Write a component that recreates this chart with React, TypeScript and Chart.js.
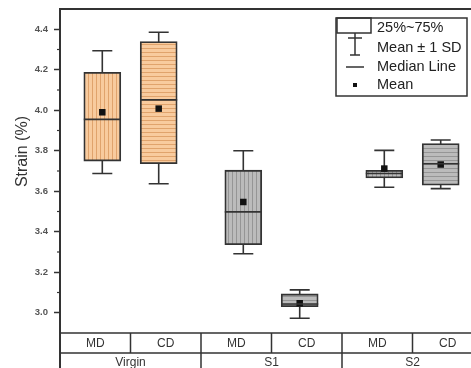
import React, { useEffect, useRef } from 'react';
import { Chart, registerables } from 'chart.js';
Chart.register(...registerables);

const FONT = "'Liberation Sans', Arial, sans-serif";

const groups = ['Virgin', 'S1', 'S2'];
const directions = ['MD', 'CD'];
// order: Virgin MD, Virgin CD, S1 MD, S1 CD, S2 MD, S2 CD
const q1 = [3.749, 3.736, 3.336, 3.030, 3.666, 3.630];
const q3 = [4.187, 4.339, 3.704, 3.093, 3.703, 3.836];
const medians = [3.955, 4.051, 3.498, 3.043, 3.688, 3.736];
const means = [3.990, 4.008, 3.547, 3.047, 3.712, 3.732];
const whiskerLow = [3.688, 3.637, 3.291, 2.973, 3.620, 3.613];
const whiskerHigh = [4.294, 4.385, 3.800, 3.113, 3.802, 3.853];
const yTicks = [3.0, 3.2, 3.4, 3.6, 3.8, 4.0, 4.2, 4.4];
const yMinorTicks = [3.1, 3.3, 3.5, 3.7, 3.9, 4.1, 4.3];
const legendLabels = ['25%~75%', 'Mean \u00b1 1 SD', 'Median Line', 'Mean'];
const axisTitle = 'Strain (%)';

const boxX = groups.flatMap((_, gi) => directions.map((__, di) => gi + 1 + (di === 0 ? -0.2 : 0.2)));
const BOX_W = 37;

function makePattern(bg: string, line: string, vertical: boolean) {
  const c = document.createElement('canvas');
  c.width = 4; c.height = 4;
  const x = c.getContext('2d')!;
  x.fillStyle = bg; x.fillRect(0, 0, 4, 4);
  x.fillStyle = line;
  if (vertical) x.fillRect(0, 0, 1, 4); else x.fillRect(0, 0, 4, 1);
  return x.createPattern(c, 'repeat')!;
}

const extras = {
  id: 'boxExtras',
  beforeDatasetsDraw(chart: any) {
    const { ctx, scales: { x, y } } = chart;
    ctx.save();
    ctx.strokeStyle = '#333';
    ctx.lineWidth = 1.6;
    boxX.forEach((bx, i) => {
      const px = x.getPixelForValue(bx);
      const lo = y.getPixelForValue(whiskerLow[i]);
      const hi = y.getPixelForValue(whiskerHigh[i]);
      ctx.beginPath();
      ctx.moveTo(px, lo); ctx.lineTo(px, hi);
      ctx.moveTo(px - 10, lo); ctx.lineTo(px + 10, lo);
      ctx.moveTo(px - 10, hi); ctx.lineTo(px + 10, hi);
      ctx.stroke();
    });
    ctx.restore();
  },
  afterDatasetsDraw(chart: any) {
    const { ctx, scales: { x, y } } = chart;
    ctx.save();
    ctx.strokeStyle = '#333';
    ctx.lineWidth = 1.6;
    boxX.forEach((bx, i) => {
      const px = x.getPixelForValue(bx);
      const py = y.getPixelForValue(medians[i]);
      ctx.beginPath();
      ctx.moveTo(px - BOX_W / 2, py); ctx.lineTo(px + BOX_W / 2, py);
      ctx.stroke();
    });
    ctx.restore();
  },
  afterDraw(chart: any) {
    const { ctx, chartArea: ca, scales: { x, y } } = chart;
    ctx.save();
    ctx.strokeStyle = '#333';
    // top frame
    ctx.lineWidth = 2;
    ctx.beginPath();
    ctx.moveTo(ca.left, ca.top); ctx.lineTo(ca.right, ca.top);
    ctx.moveTo(ca.left, ca.top); ctx.lineTo(ca.left, chart.height);
    ctx.stroke();
    // minor ticks
    ctx.lineWidth = 1.2;
    yMinorTicks.forEach((v) => {
      const py = y.getPixelForValue(v);
      ctx.beginPath(); ctx.moveTo(ca.left - 3, py); ctx.lineTo(ca.left, py); ctx.stroke();
    });
    // table
    const t0 = ca.bottom, t1 = ca.bottom + 20, t2 = ca.bottom + 40;
    ctx.lineWidth = 1.5;
    ctx.beginPath();
    [t0, t1, t2].forEach((ty) => { ctx.moveTo(ca.left, ty); ctx.lineTo(ca.right, ty); });
    groups.forEach((_, gi) => {
      const g = gi + 1;
      const pc = x.getPixelForValue(g);
      ctx.moveTo(pc, t0); ctx.lineTo(pc, t1);
      const pr = x.getPixelForValue(g + 0.5);
      ctx.moveTo(pr, t0); ctx.lineTo(pr, t2);
    });
    ctx.stroke();
    ctx.fillStyle = '#333';
    ctx.textAlign = 'center';
    ctx.textBaseline = 'middle';
    ctx.font = `12px ${FONT}`;
    groups.forEach((gname, gi) => {
      const g = gi + 1;
      directions.forEach((d, di) => {
        ctx.fillText(d, x.getPixelForValue(g + (di === 0 ? -0.25 : 0.25)), t0 + 10.5);
      });
      ctx.fillText(gname, x.getPixelForValue(g), t1 + 10);
    });
    // axis title
    ctx.save();
    ctx.translate(ca.left - 37, ca.top + ca.height * 0.44);
    ctx.rotate(-Math.PI / 2);
    ctx.font = `16px ${FONT}`;
    ctx.fillStyle = '#333';
    ctx.fillText(axisTitle, 0, 0);
    ctx.restore();
    // legend
    const lr = ca.right - 16, lt = ca.top + 9, lw = 131, lh = 78;
    const ll = lr - lw;
    ctx.lineWidth = 1.5;
    ctx.strokeStyle = '#333';
    ctx.fillStyle = '#fff';
    ctx.fillRect(ll, lt, lw, lh);
    ctx.strokeRect(ll, lt, lw, lh);
    ctx.strokeRect(ll + 1, lt, 34, 15);
    const sx = ll + 19;
    ctx.beginPath();
    ctx.moveTo(sx, lt + 15); ctx.lineTo(sx, lt + 37);
    ctx.moveTo(sx - 7, lt + 20); ctx.lineTo(sx + 7, lt + 20);
    ctx.moveTo(sx - 5, lt + 37); ctx.lineTo(sx + 5, lt + 37);
    ctx.moveTo(sx - 9, lt + 49); ctx.lineTo(sx + 9, lt + 49);
    ctx.stroke();
    ctx.fillStyle = '#111';
    ctx.fillRect(sx - 2, lt + 65, 4, 4);
    ctx.font = `14.5px ${FONT}`;
    ctx.textAlign = 'left';
    ctx.fillStyle = '#222';
    const rows = [10, 30, 49, 67];
    legendLabels.forEach((lab, i) => ctx.fillText(lab, ll + 41, lt + rows[i]));
    ctx.restore();
  },
};

export default function App() {
  const ref = useRef<HTMLCanvasElement>(null);
  useEffect(() => {
    const orange = '#F8CB9E', orangeLine = '#E0A36C';
    const gray = '#BBBBBB', grayLine = '#959595';
    const fills = [
      makePattern(orange, orangeLine, true),
      makePattern(orange, orangeLine, false),
      makePattern(gray, grayLine, true),
      makePattern(gray, grayLine, false),
      makePattern(gray, grayLine, true),
      makePattern(gray, grayLine, false),
    ];
    const chart = new Chart(ref.current!, {
      type: 'bar',
      data: {
        datasets: [
          {
            type: 'scatter',
            order: 0,
            data: boxX.map((bx, i) => ({ x: bx, y: means[i] })),
            pointStyle: 'rect',
            pointRadius: 4.6,
            backgroundColor: '#111',
            borderColor: '#111',
            borderWidth: 0,
          } as any,
          {
            type: 'bar',
            order: 1,
            data: boxX.map((bx, i) => ({ x: bx, y: [q1[i], q3[i]] })),
            backgroundColor: fills,
            borderColor: '#333',
            borderWidth: 1.8,
            borderSkipped: false,
            barThickness: BOX_W,
          } as any,
        ],
      },
      options: {
        animation: false,
        responsive: false,
        devicePixelRatio: 1,
        layout: { autoPadding: false, padding: { top: 9, right: 7, bottom: 35, left: 0 } },
        plugins: { legend: { display: false }, tooltip: { enabled: false } },
        scales: {
          x: { type: 'linear', min: 0.5, max: 3.5, offset: false, display: false },
          y: {
            type: 'linear',
            min: 2.9,
            max: 4.5,
            afterBuildTicks: (s: any) => { s.ticks = yTicks.map((v) => ({ value: v })); },
            afterFit: (s: any) => { s.width = 60; s.paddingTop = 0; s.paddingBottom = 0; },
            ticks: {
              callback: (v: any) => Number(v).toFixed(1),
              font: { size: 9.5, weight: 'bold', family: FONT },
              color: '#555',
              padding: 6,
            },
            grid: { drawOnChartArea: false, tickLength: 6, tickColor: '#333', tickWidth: 1.5 },
            border: { color: '#333', width: 2 },
          },
        },
      } as any,
      plugins: [extras],
    });
    return () => chart.destroy();
  }, []);
  return (
    <div style={{ position: 'absolute', left: 0, top: 0, width: 471, height: 368, overflow: 'hidden', background: '#fff' }}>
      <canvas ref={ref} width={490} height={368} style={{ display: 'block' }} />
    </div>
  );
}
